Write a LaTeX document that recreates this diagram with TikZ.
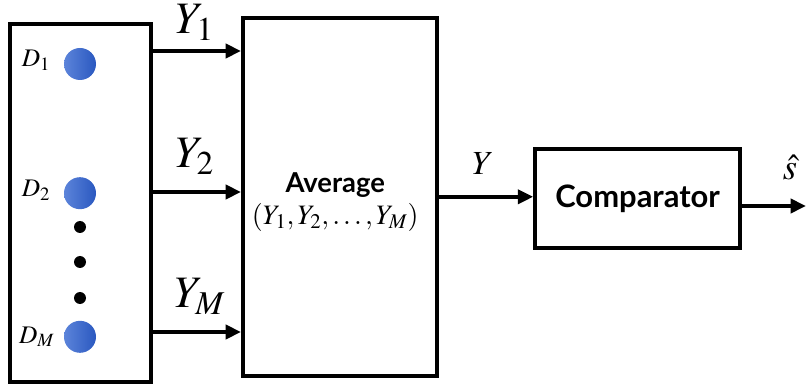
\documentclass[tikz,border=0pt]{standalone}
\usepackage{mathptmx}
\usepackage{fontspec}
\newfontfamily\blockfont{Lato}
\usepackage{tikz}
\usetikzlibrary{arrows.meta}
\definecolor{dotlight}{RGB}{92,132,218}
\definecolor{dotdark}{RGB}{42,88,192}

\begin{document}
\begin{tikzpicture}[>={Triangle[length=11pt,width=10pt]},
    block/.style={draw, line width=2.8pt, inner sep=0pt},
    sensor/.style={circle, minimum size=0.8cm, inner sep=0pt, left color=dotlight, right color=dotdark},
    gap/.style={circle, fill=black, minimum size=0.3cm, inner sep=0pt},
    biglbl/.style={anchor=base, inner sep=1pt, font=\fontsize{32}{36}\selectfont},
    dlbl/.style={anchor=base, font=\fontsize{18}{20}\selectfont}]
\useasboundingbox (0,0) rectangle (20.2,-9.675);
\node[block, minimum width=3.52cm, minimum height=8.96cm] (src) at (2.02,-5.08) {};
\node[block, minimum width=4.85cm, minimum height=8.96cm] (avg) at (8.5,-4.92) {};
\node[block, minimum width=5.12cm, minimum height=2.47cm, font=\blockfont\bfseries\fontsize{22}{24}\selectfont] (cmp) at (15.94,-4.96) {Comparator};
\node[font=\blockfont\bfseries\fontsize{19.5}{22}\selectfont, align=center] (avgtxt) at (8.38,-5.05)
    {Average\\[1pt] {\fontsize{20}{22}\selectfont$\left(Y_1, Y_2, \ldots, Y_M\right)$}};
% sensors
\node[sensor] (d1) at (2.0,-1.6) {};
\node[sensor] (d2) at (2.0,-4.83) {};
\node[sensor] (dM) at (2.0,-8.42) {};
\node[dlbl] (d1lbl) at (0.9,-1.675) {$D_1$};
\node[dlbl] (d2lbl) at (0.9,-4.925) {$D_2$};
\node[dlbl] (dMlbl) at (0.92,-8.575) {$D_M$};
\node[gap] (g1) at (2.0,-5.675) {};
\node[gap] (g2) at (2.0,-6.55) {};
\node[gap] (g3) at (2.0,-7.45) {};
% outputs of the sensors
\coordinate (y1) at (src.east |- 0,-1.275);
\coordinate (y2) at (src.east |- 0,-4.8);
\coordinate (yM) at (src.east |- 0,-8.3);
\coordinate (out) at (20.15,-5.15);
\draw[->, line width=2.8pt] (y1) -- (avg.west |- y1);
\draw[->, line width=2.8pt] (y2) -- (avg.west |- y2);
\draw[->, line width=2.8pt] (yM) -- (avg.west |- yM);
\draw[->, line width=2.8pt] (avg.east) -- (avg.east -| cmp.west);
\draw[->, line width=2.8pt] (cmp.east |- out) -- (out);
\node[biglbl] (y1lbl) at (4.875,-0.85) {$Y_1$};
\node[biglbl] (y2lbl) at (4.875,-4.2) {$Y_2$};
\node[biglbl] (yMlbl) at (5.0,-7.7) {$Y_M$};
\node[biglbl, font=\fontsize{24}{26}\selectfont] (ylbl) at (12.075,-4.375) {$Y$};
\node[biglbl, font=\fontsize{26}{28}\selectfont] (slbl) at (19.75,-4.5) {$\hat{s}$};
\end{tikzpicture}
\end{document}
